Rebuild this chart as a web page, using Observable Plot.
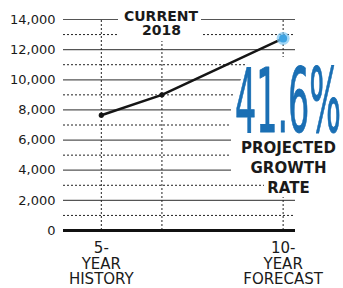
<!DOCTYPE html>
<html><head><meta charset="utf-8">
<script src="https://cdn.jsdelivr.net/npm/d3@7"></script>
<script src="https://cdn.jsdelivr.net/npm/@observablehq/plot@0.6"></script>
<style>
body{margin:0;background:#fff;}
#chart{position:relative;width:343px;height:288px;overflow:hidden;}
#chart svg{display:block;}
</style></head><body><div id="chart"></div>
<script>
// ---- data ----
const periodLabels = ["5-\nYEAR\nHISTORY", "CURRENT\n2018", "10-\nYEAR\nFORECAST"];
const periodYears = [-5, 0, 10];           // years relative to 2018
const periodValues = [7650, 9000, 12744];
const majorTicks = [0, 2000, 4000, 6000, 8000, 10000, 12000, 14000];
const minorTicks = [1000, 3000, 5000, 7000, 9000, 11000, 13000];
const growthLabel = "41.6%";
const growthCaption = ["PROJECTED", "GROWTH", "RATE"];

const data = periodYears.map((t, i) => ({year: t, value: periodValues[i], label: periodLabels[i]}));
const fmt = d3.format(",");

const chart = Plot.plot({
  width: 343, height: 288,
  marginLeft: 63, marginRight: 48, marginTop: 19, marginBottom: 58,
  style: {fontFamily: "DejaVu Sans", fontSize: "13px", color: "#1a1a1a", background: "#fff"},
  x: {domain: [-8.12, 11.02], axis: null, label: null},
  y: {domain: [0, 14000], axis: null, label: null},
  marks: [
    Plot.ruleY(minorTicks, {stroke: "#222", strokeWidth: 1, strokeDasharray: "2,2"}),
    Plot.ruleY(majorTicks.filter(d => d > 0), {stroke: "#555", strokeWidth: 1.2}),
    Plot.ruleX(data, {x: "year", y1: 0, y2: 14000, stroke: "#222", strokeWidth: 1, strokeDasharray: "2,2"}),
    Plot.ruleY([0], {stroke: "#111", strokeWidth: 3}),
    Plot.axisY(majorTicks, {tickSize: 0, tickPadding: 8, tickFormat: fmt, fontSize: 13, fill: "#1a1a1a", label: null}),
    Plot.axisX(data.filter(d => d.year !== 0).map(d => d.year), {
      tickSize: 0, tickPadding: 12, fontSize: 15, lineHeight: 1.03, fill: "#1a1a1a", label: null,
      tickFormat: t => data.find(d => d.year === t).label
    }),
    Plot.line(data, {x: "year", y: "value", stroke: "#151515", strokeWidth: 2.5}),
    Plot.dot(data.filter(d => d.year <= 0), {x: "year", y: "value", r: 2.6, fill: "#151515"}),
    Plot.dot(data.filter(d => d.year > 0), {x: "year", y: "value", r: 6.5, fill: "#7cc6f2", fillOpacity: 0.7}),
    Plot.dot(data.filter(d => d.year > 0), {x: "year", y: "value", r: 4, fill: "#3ea3e2"})
  ]
});
const root = document.getElementById("chart");
root.appendChild(chart);

// ---- annotations overlay ----
const cur = data.find(d => d.year === 0).label.split("\n");
const ov = d3.create("svg").attr("width", 343).attr("height", 288)
  .style("position", "absolute").style("left", 0).style("top", 0)
  .style("font-family", "DejaVu Sans");
ov.append("rect").attr("x", 118).attr("y", 4).attr("width", 83).attr("height", 37).attr("fill", "#fff");
ov.append("text").attr("x", 161).attr("y", 21).attr("text-anchor", "middle")
  .attr("font-weight", "bold").attr("font-size", 14).attr("fill", "#1a1a1a").text(cur[0]);
ov.append("text").attr("x", 161.5).attr("y", 35).attr("text-anchor", "middle")
  .attr("font-weight", "bold").attr("font-size", 14).attr("fill", "#1a1a1a").text(cur[1]);

ov.append("path").attr("d", "M250,57L343,57L343,139L231,139L231,104Z").attr("fill", "#fff");
const g = ov.append("g").attr("transform", "translate(235,132)");
const big = g.append("text").attr("x", 0).attr("y", 0)
  .attr("font-family", "DejaVu Sans Condensed")
  .attr("font-size", 89).attr("fill", "#1a6fb4")
  .attr("stroke", "#1a6fb4").attr("stroke-width", 1).attr("stroke-linejoin", "round")
  .text(growthLabel);

ov.append("rect").attr("x", 231).attr("y", 138).attr("width", 112).attr("height", 39).attr("fill", "#fff");
ov.append("rect").attr("x", 264).attr("y", 177).attr("width", 50).attr("height", 20).attr("fill", "#fff");
const baselines = [152.7, 172.7, 193.3];
growthCaption.forEach((s, i) => {
  ov.append("text").attr("x", 288.5).attr("y", baselines[i]).attr("text-anchor", "middle")
    .attr("font-weight", "bold").attr("font-size", 15).attr("fill", "#1a1a1a").text(s);
});
root.appendChild(ov.node());
const len = big.node().getComputedTextLength();
g.attr("transform", `translate(235,132) scale(${106 / len},1)`);
</script>
</body></html>
